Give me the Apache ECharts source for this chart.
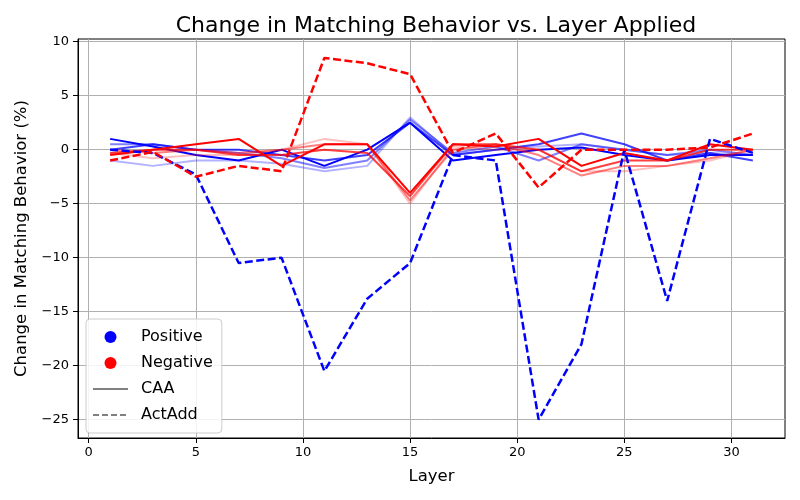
<!DOCTYPE html>
<html><head><meta charset="utf-8">
<script src="https://cdn.jsdelivr.net/npm/echarts@6/dist/echarts.min.js"></script>
<style>html,body{margin:0;padding:0;background:#fff}#c{width:800px;height:500px}</style>
</head><body><div id="c"></div>
<script>
const layers = [1,3,5,7,9,11,13,15,17,19,21,23,25,27,29,31];
const xTicks = [0,5,10,15,20,25,30];
const yTicks = [-25,-20,-15,-10,-5,0,5,10];

// CAA, positive (blue), from lightest to strongest
const caaPos1 = [-1, -1.5, -1, -1, -1.3, -2, -1.5, 3, -0.5, 0, 0.3, 0.5, 0, -0.5, -0.3, -0.5];
const caaPos2 = [0.5, 0.5, 0, -0.3, -0.8, -1.7, -1, 2.8, -0.3, 0.3, -1, 0.5, 0, -0.5, 0, -0.5];
const caaPos3 = [0, 0.5, 0, 0, -0.5, -1, -0.5, 2.5, -0.5, 0, 0.5, 1.5, 0.5, -1, -0.3, -1];
const caaPos4 = [1, 0.3, -0.5, -1, 0, -1.5, 0, 2.5, -1, -0.5, 0, 0.2, -0.5, -1, -0.5, -0.5];
// CAA, negative (red), from lightest to strongest
const caaNeg1 = [-0.3, -0.8, -0.5, -0.5, 0, 1, 0.5, -5, 0.3, 0, 0, -2, -2, -1.5, -1, 0];
const caaNeg2 = [0, -0.3, 0, -0.3, 0, 0.5, 0.5, -4.7, 0, 0.5, -0.5, -2.4, -1.5, -1.5, -0.8, 0];
const caaNeg3 = [-0.3, 0, 0, -0.5, -0.5, 0, -0.3, -4.3, 0.5, 0.5, 0, -2, -1, -1, 0, 0];
const caaNeg4 = [-0.5, 0, 0.5, 1, -1.5, 0.5, 0.5, -4, 0.5, 0.3, 1, -1.5, -0.3, -1, 0.5, 0];
// ActAdd
const actPos = [0, -0.3, -2.3, -10.5, -10, -20.5, -13.8, -10.5, -0.5, -1, -25, -18, 0, -14, 1, -0.3];
const actNeg = [-1, -0.2, -2.5, -1.5, -2, 8.5, 8, 7, -0.3, 1.5, -3.5, 0, 0, 0, 0.2, 1.5];

const FONT = 'DejaVu Sans';
const toPts = arr => layers.map((l, i) => [l, arr[i]]);
const minus = v => String(v).replace('-', '\u2212');

function solid(arr, color, op) {
  return { type: 'line', data: toPts(arr), symbol: 'none', silent: true,
    lineStyle: { color: color, width: 2, opacity: op }, itemStyle: { color: color } };
}
function dashed(arr, color) {
  return { type: 'line', data: toPts(arr), symbol: 'none', silent: true,
    lineStyle: { color: color, width: 2.5, type: [8, 3.5] }, itemStyle: { color: color } };
}

const series = [
  solid(caaPos1, '#0000ff', 0.3), solid(caaPos2, '#0000ff', 0.5),
  solid(caaPos3, '#0000ff', 0.75), solid(caaPos4, '#0000ff', 1),
  solid(caaNeg1, '#ff0000', 0.25), solid(caaNeg2, '#ff0000', 0.5),
  solid(caaNeg3, '#ff0000', 0.75), solid(caaNeg4, '#ff0000', 1),
  dashed(actPos, '#0000ff'), dashed(actNeg, '#ff0000'),
  { name: 'Positive', type: 'scatter', data: [], symbol: 'circle', itemStyle: { color: '#0000ff', opacity: 1 } },
  { name: 'Negative', type: 'scatter', data: [], symbol: 'circle', itemStyle: { color: '#ff0000', opacity: 1 } },
  { name: 'CAA', type: 'line', data: [], symbol: 'none', showSymbol: false, itemStyle: { color: '#808080' }, lineStyle: { color: '#808080', width: 2 } },
  { name: 'ActAdd', type: 'line', data: [], symbol: 'none', showSymbol: false, itemStyle: { color: '#808080' }, lineStyle: { color: '#808080', width: 2, type: [6, 3] } }
];

const chart = echarts.init(document.getElementById('c'), null, { renderer: 'canvas' });
chart.setOption({
  animation: false,
  backgroundColor: '#fff',
  textStyle: { fontFamily: FONT },
  title: { text: 'Change in Matching Behavior vs. Layer Applied', left: 431, textAlign: 'center', top: 10,
    textStyle: { fontFamily: FONT, fontSize: 22, fontWeight: 'normal', color: '#000' } },
  grid: { left: 78, right: 15, top: 39, bottom: 62, show: true, borderColor: '#000', borderWidth: 1, containLabel: false },
  legend: {
    data: [
      { name: 'Positive', icon: 'circle', itemStyle: { opacity: 1 } },
      { name: 'Negative', icon: 'circle', itemStyle: { opacity: 1 } },
      { name: 'CAA', itemStyle: { opacity: 0 } },
      { name: 'ActAdd', itemStyle: { opacity: 0 } }
    ],
    orient: 'vertical', left: 86, top: 319,
    itemWidth: 35, itemHeight: 12, itemGap: 6, padding: [8, 9, 8, 6],
    backgroundColor: 'rgba(255,255,255,0.85)', borderColor: '#cccccc', borderWidth: 1, borderRadius: 4,
    textStyle: { fontFamily: FONT, fontSize: 16, color: '#000', lineHeight: 20, padding: [0, 0, 0, 8] },
    selectedMode: false
  },
  xAxis: {
    type: 'value', min: -0.5, max: 32.5,
    name: 'Layer', nameLocation: 'middle', nameGap: 30,
    nameTextStyle: { fontFamily: FONT, fontSize: 16.5, color: '#000' },
    axisLine: { show: true, onZero: false, lineStyle: { color: '#000', width: 1 } },
    axisTick: { show: true, length: 5, lineStyle: { color: '#000' }, customValues: xTicks },
    axisLabel: { customValues: xTicks, fontFamily: FONT, fontSize: 13, color: '#000', margin: 8, formatter: minus },
    splitLine: { show: true, lineStyle: { color: '#b0b0b0', width: 1 } }
  },
  yAxis: {
    type: 'value', min: -26.7, max: 10.25,
    name: 'Change in Matching Behavior (%)', nameLocation: 'middle', nameGap: 47,
    nameTextStyle: { fontFamily: FONT, fontSize: 16.5, color: '#000' },
    axisLine: { show: true, onZero: false, lineStyle: { color: '#000', width: 1 } },
    axisTick: { show: true, length: 5, lineStyle: { color: '#000' }, customValues: yTicks },
    axisLabel: { customValues: yTicks, fontFamily: FONT, fontSize: 13, color: '#000', margin: 9, formatter: minus },
    splitLine: { show: true, lineStyle: { color: '#b0b0b0', width: 1 } }
  },
  series: series
});
</script>
</body></html>
